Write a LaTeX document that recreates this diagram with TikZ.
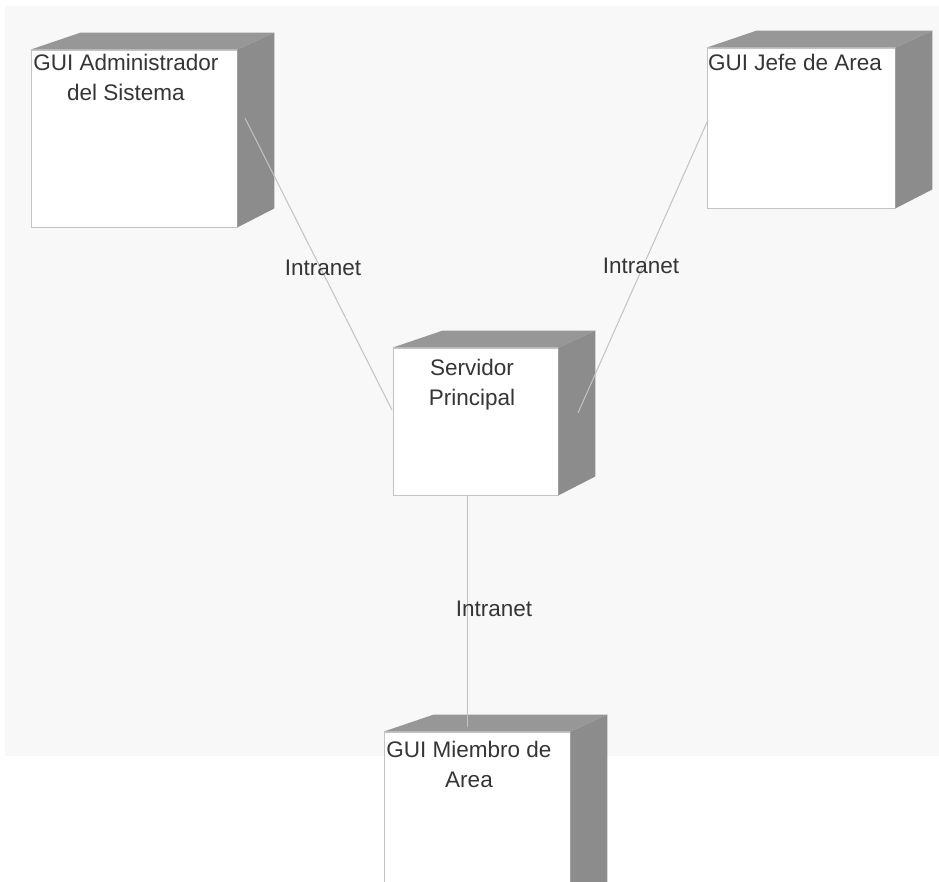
\documentclass[tikz,border=0pt]{standalone}
\usepackage{fontspec}
\setmainfont{Liberation Sans}
\usetikzlibrary{calc}
\definecolor{panel}{HTML}{F8F8F8}
\definecolor{sideface}{HTML}{8C8C8C}
\definecolor{topface}{HTML}{979797}
\definecolor{edge}{HTML}{C4C4C4}
\definecolor{wire}{HTML}{C2C2C2}
\definecolor{ink}{HTML}{353535}
\tikzset{
  front/.style={draw=edge, line width=0.8pt, fill=white, inner sep=0pt},
  title/.style={text=ink, font=\fontsize{22.5}{30}\selectfont, align=center, anchor=north, inner sep=0pt},
  wirelabel/.style={text=ink, font=\fontsize{22.5}{26}\selectfont, inner sep=0pt},
  link/.style={draw=wire, line width=1pt},
}
% depth block behind a front face: top and right faces
\newcommand{\cubeback}[1]{%
  \fill[topface] (#1.north west) -- ++(50,-17) -- ($(#1.north east)+(37,-17)$) -- (#1.north east) -- cycle;
  \fill[sideface] (#1.north east) -- ++(37,-17) -- ($(#1.south east)+(37,-19)$) -- (#1.south east) -- cycle;
}
\begin{document}
\begin{tikzpicture}[x=1pt,y=-1pt]
\useasboundingbox (0,0) rectangle (939,881);
\clip (0,0) rectangle (939,881);
\fill[white] (0,0) rectangle (939,881);
\fill[panel] (5,6) rectangle (939,756);

% front faces
\node[front, minimum width=206, minimum height=177] (adm) at (134,138.5) {};
\node[front, minimum width=188, minimum height=160] (jefe) at (801,128) {};
\node[front, minimum width=165, minimum height=147] (serv) at (475.5,421.5) {};
\node[front, minimum width=186, minimum height=170] (miem) at (477,817) {};

\cubeback{adm}
\cubeback{jefe}
\cubeback{serv}
\cubeback{miem}

% titles
\node[title] (adm-t) at (126,54) {GUI Administrador\\del Sistema};
\node[title] (jefe-t) at (795,54) {GUI Jefe de Area};
\node[title] (serv-t) at (472,359) {Servidor\\Principal};
\node[title] (miem-t) at (469,741) {GUI Miembro de\\Area};

% connection end points
\coordinate (a1) at (245,118);
\coordinate (a2) at (392,410);
\coordinate (j1) at (708,120);
\coordinate (j2) at (578,413);
\coordinate (m1) at (467,495);
\coordinate (m2) at (467,727);

\draw[link] (a1) -- (a2);
\draw[link] (j1) -- (j2);
\draw[link] (m1) -- (m2);

% connection labels
\node[wirelabel] (l1) at (323,268) {Intranet};
\node[wirelabel] (l2) at (641,266) {Intranet};
\node[wirelabel] (l3) at (494,609) {Intranet};
\end{tikzpicture}
\end{document}
